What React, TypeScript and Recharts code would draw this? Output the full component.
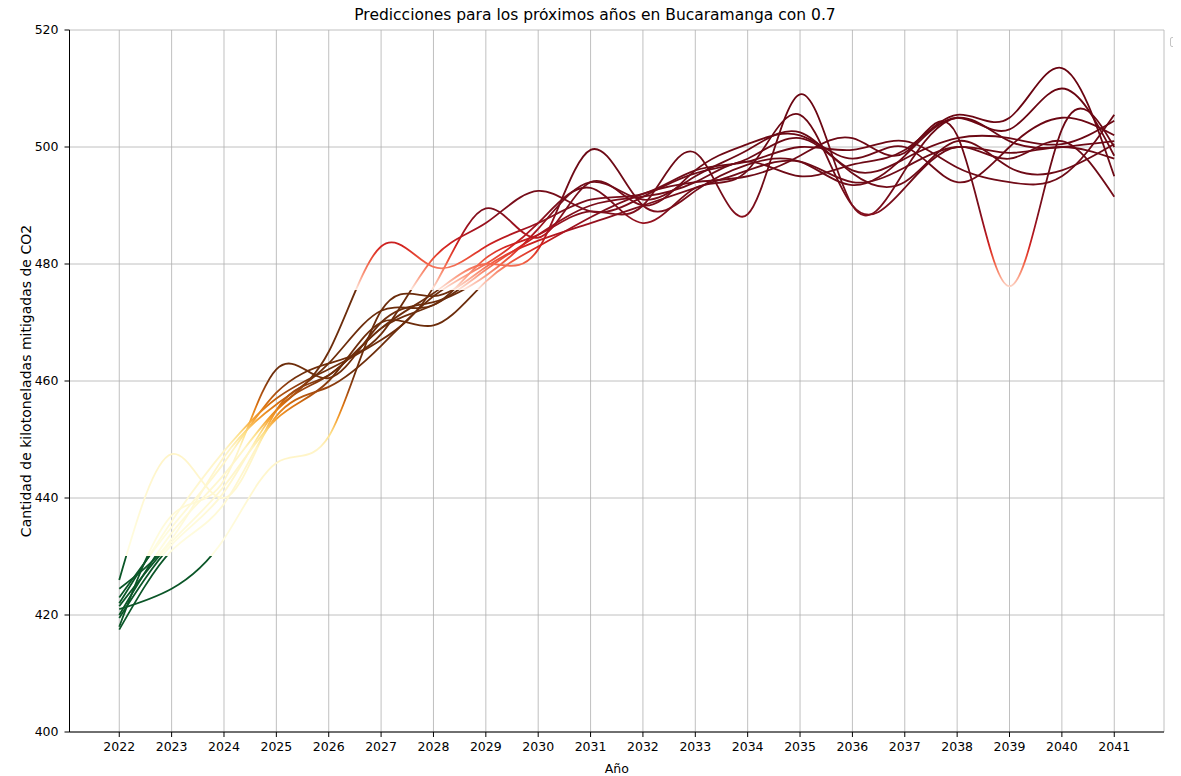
import React from 'react';
import { LineChart, Line, XAxis, YAxis, CartesianGrid } from 'recharts';

const years = [2022, 2023, 2024, 2025, 2026, 2027, 2028, 2029, 2030, 2031, 2032, 2033, 2034, 2035, 2036, 2037, 2038, 2039, 2040, 2041];

const run1 = [426, 447.5, 440, 455, 461, 469, 473, 479, 485, 490, 491.5, 494, 497.5, 495, 497, 499.5, 505.5, 505, 513.5, 495];
const run2 = [421, 424.5, 433, 446, 450.5, 472, 474.5, 479.5, 484, 487, 490, 493, 496, 497.5, 494, 496.5, 500, 499, 500, 498];
const run3 = [418, 437, 443, 462, 460.5, 470, 473.5, 478, 486, 494, 491, 495, 499.5, 502.5, 496, 498, 501.5, 501.5, 500.5, 504.5];
const run4 = [420, 434, 444, 455, 465, 483, 479.5, 483, 487, 491, 492, 496, 497.5, 500, 499.5, 501, 496.5, 494, 495, 505.5];
const run5 = [422, 436, 448, 457, 462, 467, 476, 489.5, 484.5, 494, 490, 496, 500.5, 502, 498, 500, 494, 500, 505, 502];
const run6 = [423, 435, 446, 458, 463, 468, 481, 487, 492.5, 489, 491.5, 495.5, 498, 501.5, 495.5, 494, 501, 496.5, 496, 500.5];
const run7 = [419.5, 432, 441, 455, 461, 469, 475, 480, 482.5, 499.5, 490, 492.5, 497, 497.5, 493.5, 498.5, 505, 503, 510, 498.5];
const run8 = [424.5, 433, 447, 456, 463, 472, 473, 481, 485, 489, 490, 499, 488.5, 509, 490, 496, 505, 501, 500, 501];
const run9 = [417.5, 431, 439, 454, 459, 466, 474.5, 480, 487, 493, 487, 493, 496, 505.5, 490, 493, 500, 498, 501, 491.5];
const run10 = [421.5, 432.5, 442, 453.5, 460, 470, 469.5, 477, 483, 488, 492, 494, 495, 498.5, 501.5, 499, 502, 476.2, 503, 500];

const runs = [run1, run2, run3, run4, run5, run6, run7, run8, run9, run10];
const yTicks = [400, 420, 440, 460, 480, 500, 520];

const data = years.map((year, i) => {
  const row: Record<string, number> = { year };
  runs.forEach((r, k) => { row['r' + (k + 1)] = r[i]; });
  return row;
});

// plot box inside the svg
const W = 1165;
const H = 768;
const TOP = 22;
const BOTTOM = 724;
const yOf = (v: number) => TOP + ((520 - v) / 120) * (BOTTOM - TOP);

// colour by value band, like the original colormap pieces
const stops: [number, string][] = [
  [520, '#67000d'],
  [495, '#6e0b17'],
  [489, '#7d0e1c'],
  [486, '#a3121f'],
  [483, '#d42420'],
  [480.5, '#ef583e'],
  [478, '#fb9d83'],
  [475.6, '#fde6dc'],
  [475.5, '#6b2c0c'],
  [461, '#6e2e0b'],
  [458.5, '#9c4510'],
  [456, '#d9700f'],
  [453.5, '#f6a232'],
  [451, '#fde08a'],
  [448.5, '#fff4c6'],
  [430.1, '#fffde2'],
  [430, '#0b5628'],
  [400, '#0b5628'],
];

const font = 'DejaVu Sans';

const App: React.FC = () => {
  return (
    <div style={{ position: 'relative', width: W, height: H, fontFamily: font }}>
      <div
        style={{
          position: 'absolute',
          top: 0,
          left: 595 - 8 - 300,
          width: 600,
          textAlign: 'center',
          fontSize: 15.5,
          lineHeight: '15.5px',
          color: '#000',
        }}
      >
        Predicciones para los próximos años en Bucaramanga con 0.7
      </div>
      {/* empty legend box, as in the original */}
      <div
        style={{
          position: 'absolute',
          top: 29,
          left: 1162,
          width: 8,
          height: 8,
          border: '1px solid #c4c4c4',
          borderRadius: 2,
        }}
      />
      <LineChart width={W} height={H} data={data} margin={{ top: TOP, right: 9, bottom: 0, left: 0 }}>
        <defs>
          <linearGradient id="bandColor" gradientUnits="userSpaceOnUse" x1={0} y1={yOf(520)} x2={0} y2={yOf(400)}>
            {stops.map(([v, c], i) => (
              <stop key={i} offset={(520 - v) / 120} stopColor={c} />
            ))}
          </linearGradient>
        </defs>
        <CartesianGrid stroke="#b0b0b0" strokeWidth={0.8} />
        <XAxis
          dataKey="year"
          type="number"
          domain={[2021.05, 2041.95]}
          ticks={years}
          allowDataOverflow
          height={44}
          stroke="#000"
          tick={{ fill: '#000', fontSize: 12.5, fontFamily: font }}
          tickSize={5}
          tickMargin={5}
          label={{ value: 'Año', position: 'insideBottom', offset: 3, fill: '#000', fontSize: 12.5, fontFamily: font }}
        />
        <XAxis xAxisId="top" orientation="top" dataKey="year" type="number" domain={[2021.05, 2041.95]} tick={false} tickLine={false} height={0} stroke="#000" />
        <YAxis
          type="number"
          domain={[400, 520]}
          ticks={yTicks}
          width={61.5}
          stroke="#000"
          tick={{ fill: '#000', fontSize: 12.5, fontFamily: font }}
          tickSize={5}
          tickMargin={6}
          label={{ value: 'Cantidad de kilotoneladas mitigadas de CO2', angle: -90, position: 'insideLeft', offset: 18, fill: '#000', fontSize: 14, fontFamily: font, style: { textAnchor: 'middle' } }}
        />
        <YAxis yAxisId="right" orientation="right" domain={[400, 520]} tick={false} tickLine={false} width={0} stroke="#000" />
        {runs.map((_, k) => (
          <Line
            key={k}
            dataKey={'r' + (k + 1)}
            type="natural"
            stroke="url(#bandColor)"
            strokeWidth={1.8}
            dot={false}
            activeDot={false}
            isAnimationActive={false}
          />
        ))}
      </LineChart>
    </div>
  );
};

export default App;
